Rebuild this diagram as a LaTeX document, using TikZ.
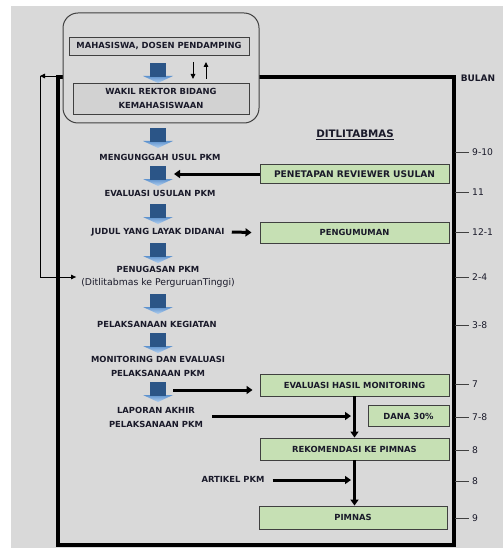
\documentclass[tikz,border=0pt]{standalone}
\usepackage{fontspec}
\setmainfont{DejaVu Sans}
\usetikzlibrary{arrows.meta}
\definecolor{bgc}{HTML}{D9D9D9}
\definecolor{boxg}{HTML}{C6E0B4}
\definecolor{boxgr}{HTML}{D2D2D2}
\definecolor{bord}{HTML}{404040}
\definecolor{txt}{HTML}{1A1A2A}
\definecolor{bdark}{HTML}{2B5587}
\definecolor{blite}{HTML}{5E93CF}
\definecolor{blite2}{HTML}{B4D0EE}
\newcommand\pkmarrow[2]{%
  \shade[top color=blite, bottom color=blite2] (#1-15,#2+13) -- (#1+15,#2+13) -- (#1,#2+20) -- cycle;
  \fill[bdark] (#1-8,#2) rectangle (#1+8,#2+14);
}
\tikzset{
  gbox/.style={draw=bord, line width=0.9, fill=boxg, inner sep=0},
  greybox/.style={draw=bord, line width=0.9, fill=boxgr, inner sep=0},
  lbl/.style={align=center, inner sep=1},
  thk/.style={line width=3, -{Triangle[width=8pt,length=6pt]}},
  thn/.style={line width=0.9, -{Triangle[width=4.5pt,length=5pt]}},
  tickl/.style={draw=bord, line width=0.8},
  tlab/.style={right, inner sep=0, font=\fontsize{9.2}{10}\selectfont\mdseries}
}
\begin{document}
\begin{tikzpicture}[x=1pt,y=-1pt, font=\fontsize{8.4}{13.5}\selectfont\bfseries, text=txt]
\useasboundingbox (0,0) rectangle (503,548);
\fill[bgc] (11,6) rectangle (503,548);
\draw[line width=3.5] (58,77) rectangle (454,545);
% top rounded box
\node[draw=bord, line width=1, fill=bgc, rounded corners=15, minimum width=196, minimum height=110] (rb) at (161,68) {};
\node[greybox, minimum width=180, minimum height=18] (mhs) at (159,46) {MAHASISWA, DOSEN PENDAMPING};
\node[greybox, minimum width=176, minimum height=31, align=center] (wr) at (161,98.5) {WAKIL REKTOR BIDANG\\KEMAHASISWAAN};
\coordinate (d1) at (193,62); \coordinate (d2) at (193,79);
\coordinate (u1) at (206,79); \coordinate (u2) at (206,62);
\draw[thn] (d1) -- (d2);
\draw[thn] (u1) -- (u2);
% blue arrows
\pkmarrow{158}{63}
\pkmarrow{158}{128}
\pkmarrow{158}{166}
\pkmarrow{158}{204}
\pkmarrow{158}{243}
\pkmarrow{158}{294}
\pkmarrow{158}{333}
\pkmarrow{158}{382}
% headings
\node[font=\fontsize{10.3}{12}\selectfont\bfseries] (dit) at (355,135) {\underline{DITLITABMAS}};
\node[font=\fontsize{9}{11}\selectfont\bfseries] (bul) at (478,78) {BULAN};
% centre texts
\node[lbl] (t1) at (160,157) {MENGUNGGAH USUL PKM};
\node[lbl] (t2) at (160,193) {EVALUASI USULAN PKM};
\node[lbl] (t3) at (158,232) {JUDUL YANG LAYAK DIDANAI};
\node[lbl] (t4) at (158,277) {PENUGASAN PKM\\{\fontsize{9.3}{13.5}\selectfont\mdseries (Ditlitabmas ke PerguruanTinggi)}};
\node[lbl] (t5) at (157,324) {PELAKSANAAN KEGIATAN};
\node[lbl] (t6) at (158,366.5) {MONITORING DAN EVALUASI\\PELAKSANAAN PKM};
\node[lbl] (t7) at (156,417.5) {LAPORAN AKHIR\\PELAKSANAAN PKM};
\node[lbl] (art) at (233,479) {ARTIKEL PKM};
% green boxes
\node[gbox, minimum width=189, minimum height=19, font=\fontsize{9.1}{11}\selectfont\bfseries] (pen) at (354.5,174) {PENETAPAN REVIEWER USULAN};
\node[gbox, minimum width=189, minimum height=21] (peng) at (354.5,232.5) {PENGUMUMAN};
\node[gbox, minimum width=189, minimum height=22] (evm) at (354.5,385) {EVALUASI HASIL MONITORING};
\node[gbox, minimum width=81, minimum height=21] (dana) at (408.5,416) {DANA 30\%};
\node[gbox, minimum width=189, minimum height=22] (rek) at (354.5,449) {REKOMENDASI KE PIMNAS};
\node[gbox, minimum width=188, minimum height=23] (pim) at (353,517.5) {PIMNAS};
% connectors
\coordinate (a3) at (174,174);
\draw[thk] (pen.west) -- (a3);
\draw[thk] ([xshift=6]t3.east) -- ([xshift=-8]peng.west);
\coordinate (a8) at (173,390);
\draw[thk] (a8) -- ([xshift=-7]evm.west |- a8);
\coordinate (lap1) at (212,416);
\coordinate (lap2) at (351,416);
\draw[thk] (lap1) -- (lap2);
\draw[thk] (evm.south) -- (rek.north);
\coordinate (art2) at (351,480);
\draw[thk] ([xshift=7]art.east |- art2) -- (art2);
\draw[thk] (rek.south) -- (rek.south |- pim.north);
% feedback line
\coordinate (fb0) at (57,76);
\coordinate (fb1) at (40,76);
\coordinate (fb2) at (40,277);
\draw[thn] (fb0) -- (fb1);
\draw[thn] (fb1) -- (fb2) -- ([xshift=-4]t4.west |- fb2);
% month ticks
\foreach \yy/\lab in {152/9-10, 192/11, 232/12-1, 277/2-4, 325/3-8, 384/7, 417/7-8, 450/8, 481/8, 518/9}{
  \draw[tickl] (455,\yy) -- (469,\yy);
  \node[tlab] at (472,\yy) {\lab};
}
\end{tikzpicture}
\end{document}
